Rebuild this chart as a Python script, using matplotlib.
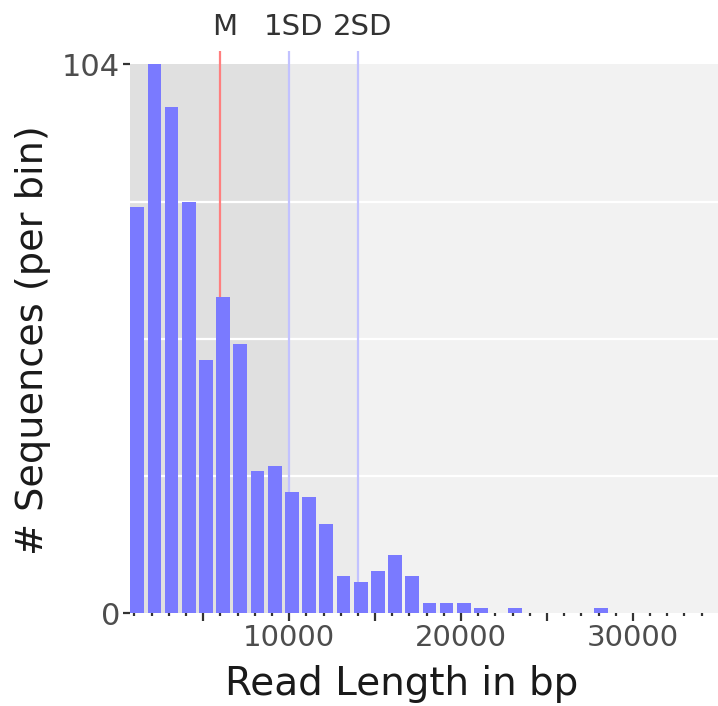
import numpy as np
import matplotlib
matplotlib.use("Agg")
import matplotlib.pyplot as plt
from matplotlib.ticker import FixedLocator

plt.rcParams['font.family'] = ['DejaVu Sans']

# ---- data ----
bin_centers = [1160 + 1000 * i for i in range(28)]
counts = [77, 104, 96, 78, 48, 60, 51, 27, 28, 23, 22, 17, 7, 6, 8, 11, 7,
          2, 2, 2, 1, 0, 1, 0, 0, 0, 0, 1]
mean_len = 6000
sd1_len = 10000
sd2_len = 14000
marker_labels = ["M", "1SD", "2SD"]
y_ticks = [0, 104]
y_grid = [26, 52, 78]
x_major = [5000, 10000, 15000, 20000, 25000, 30000]
x_labels = {10000: "10000", 20000: "20000", 30000: "30000"}
x_minor = list(range(1000, 35001, 1000))

W, H = 718, 706
fig = plt.figure(figsize=(W / 100, H / 100), dpi=100)
left, right, bottom, top = 130, 718, 613.3, 51
ax = fig.add_axes([left / W, (H - bottom) / H, (right - left) / W, (bottom - top) / H])

xmin, xmax = 740, 34950
ymax_panel = 104
ytop = (bottom - top) / 5.278
ax.set_xlim(xmin, xmax)
ax.set_ylim(0, ytop)
ax.set_facecolor("white")
for s in ax.spines.values():
    s.set_visible(False)

# background panels
ax.fill_between([xmin, xmax], 0, ymax_panel, color="#F2F2F2", zorder=0, lw=0)
ax.fill_between([xmin, sd1_len], 0, ymax_panel, color="#E0E0E0", zorder=0.1, lw=0)
ax.fill_between([sd1_len, sd2_len], 0, ymax_panel, color="#EBEBEB", zorder=0.1, lw=0)
for g in y_grid:
    ax.axhline(g, color="white", lw=1.6, zorder=0.5)

# vertical marker lines
ax.axvline(mean_len, color="#FF7F7F", lw=1.6, zorder=1)
ax.axvline(sd1_len, color="#C2C2FF", lw=1.6, zorder=1)
ax.axvline(sd2_len, color="#C2C2FF", lw=1.6, zorder=1)

# bars
ax.bar(bin_centers, counts, width=800, color="#7A7AFF", zorder=2, lw=0)

# top labels
ylab = (bottom - 27) / (bottom - top)
for xv, lab in zip([mean_len, sd1_len, sd2_len], marker_labels):
    ax.text(xv + 250, ylab, lab, transform=ax.get_xaxis_transform(),
            ha="center", va="center", fontsize=21, color="#333333", clip_on=False)

# y ticks
ax.yaxis.set_major_locator(FixedLocator(y_ticks))
ax.set_yticklabels([str(v) for v in y_ticks])
ax.tick_params(axis="y", length=5, width=1.6, color="#333333", labelsize=22,
               labelcolor="#4D4D4D", pad=2)

# x ticks
ax.xaxis.set_major_locator(FixedLocator(x_major))
ax.set_xticklabels([x_labels.get(v, "") for v in x_major])
ax.xaxis.set_minor_locator(FixedLocator([v for v in x_minor if v not in x_major]))
ax.tick_params(axis="x", which="major", length=6, width=1.6, color="#333333",
               labelsize=21, labelcolor="#4D4D4D", pad=2)
ax.tick_params(axis="x", which="minor", length=2.5, width=1.6, color="#333333")

fig.text(402 / W, 1 - 684 / H, "Read Length in bp", fontsize=28, color="#1A1A1A",
         ha="center", va="center")
fig.text(33 / W, 1 - 340 / H, "# Sequences (per bin)", fontsize=27.5, color="#1A1A1A",
         ha="center", va="center", rotation=90)

fig.savefig("out.png", dpi=100)
